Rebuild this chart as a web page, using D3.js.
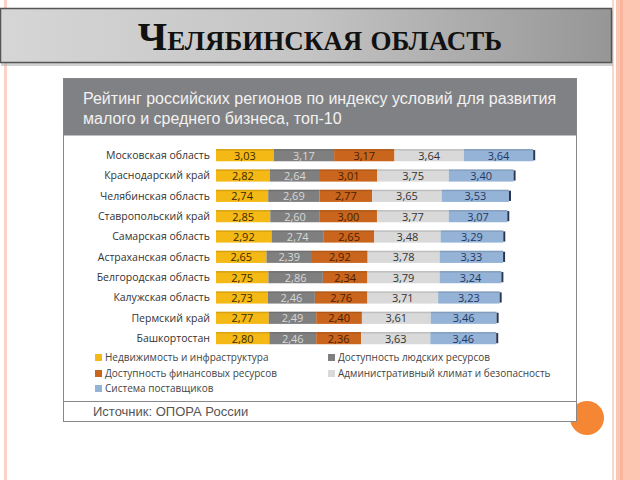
<!DOCTYPE html>
<html><head><meta charset="utf-8">
<script src="https://cdn.jsdelivr.net/npm/d3@7/dist/d3.min.js"></script>
<style>html,body{margin:0;padding:0;background:#fff;}svg{display:block;}</style>
</head><body>
<svg id="c" width="640" height="480"></svg>
<script>
const regions = ["Московская область","Краснодарский край","Челябинская область","Ставропольский край","Самарская область","Астраханская область","Белгородская область","Калужская область","Пермский край","Башкортостан"];
const seriesNames = ["Недвижимость и инфраструктура","Доступность людских ресурсов","Доступность финансовых ресурсов","Административный климат и безопасность","Система поставщиков"];
const realEstate = [3.03,2.82,2.74,2.85,2.92,2.65,2.75,2.73,2.77,2.80];
const labour     = [3.17,2.64,2.69,2.60,2.74,2.39,2.86,2.46,2.49,2.46];
const finance    = [3.17,3.01,2.77,3.00,2.65,2.92,2.34,2.76,2.40,2.36];
const admin      = [3.64,3.75,3.65,3.77,3.48,3.78,3.79,3.71,3.61,3.63];
const suppliers  = [3.64,3.40,3.53,3.07,3.29,3.33,3.24,3.23,3.46,3.46];
const seriesValues = [realEstate, labour, finance, admin, suppliers];
const colors = ["#f4b914","#7f7f7f","#c9651c","#d9d9d9","#95b3d7"];
const textColors = ["#3a2a00","#d8d8d8","#4a1e00","#333333","#1f3864"];
const pageTitle = "Челябинская область";
const chartTitle = ["Рейтинг российских регионов по индексу условий для развития","малого и среднего бизнеса, топ-10"];
const source = "Источник: ОПОРА России";

const svg = d3.select("#c");
const defs = svg.append("defs");
const g1 = defs.append("linearGradient").attr("id","tg").attr("x1","0").attr("x2","1").attr("y1","0").attr("y2","0");
g1.append("stop").attr("offset","0").attr("stop-color","#d6d6d6");
g1.append("stop").attr("offset","0.5").attr("stop-color","#c4c4c4");
g1.append("stop").attr("offset","1").attr("stop-color","#969696");

// decorative stripes
svg.append("rect").attr("x",4).attr("y",0).attr("width",3).attr("height",480).attr("fill","#fbd3c6");
svg.append("rect").attr("x",612).attr("y",0).attr("width",2).attr("height",480).attr("fill","#fbd6ca");
svg.append("rect").attr("x",616).attr("y",0).attr("width",24).attr("height",480).attr("fill","#fcc6b3");
svg.append("rect").attr("x",620).attr("y",0).attr("width",3).attr("height",480).attr("fill","#f8b49c");

// title box
svg.append("rect").attr("x",1).attr("y",11).attr("width",612).attr("height",55).attr("fill","#b0b0b0").attr("opacity",0.6);
svg.append("rect").attr("x",0.5).attr("y",8.5).attr("width",611).attr("height",54).attr("fill","url(#tg)").attr("stroke","#555").attr("stroke-width",1.5);
const tt = svg.append("text").attr("x",320).attr("y",50).attr("text-anchor","middle")
  .attr("font-family","Liberation Serif, serif").attr("font-weight","bold").attr("fill","#111");
tt.append("tspan").attr("font-size",40).text(pageTitle[0]);
const rest = pageTitle.slice(1).toUpperCase().split(" ");
tt.append("tspan").attr("font-size",27).text(rest[0]);
tt.append("tspan").attr("font-size",27).attr("dx",8).text(rest[1]);

// circle
svg.append("circle").attr("cx",587).attr("cy",418).attr("r",17).attr("fill","#f58634");

// chart frame
const fx=63.5, fy=78.5, fw=513, fh=343;
svg.append("rect").attr("x",fx).attr("y",fy).attr("width",fw).attr("height",fh).attr("fill","#fff").attr("stroke","#888").attr("stroke-width",1);
svg.append("rect").attr("x",fx).attr("y",fy).attr("width",fw).attr("height",57).attr("fill","#808184");
chartTitle.forEach((t,i)=>{
  svg.append("text").attr("x",83).attr("y",104+i*20).attr("font-family","Liberation Sans, Arial, sans-serif")
    .attr("font-size",16).attr("fill","#f2f2f2").text(t);
});
svg.append("line").attr("x1",fx).attr("x2",fx+fw).attr("y1",401.5).attr("y2",401.5).attr("stroke","#888");
svg.append("text").attr("x",93).attr("y",416).attr("font-family","Liberation Sans, Arial, sans-serif")
  .attr("font-size",13).attr("fill","#555").text(source);

// scales
const x = d3.scaleLinear().domain([0,1]).range([216,235.05]);
const y = d3.scaleBand().domain(regions).range([145,348.3]).paddingInner(0.4).paddingOuter(0.2);

const lab = svg.append("g");
regions.forEach(r=>{
  lab.append("text").attr("x",210).attr("y",y(r)+y.bandwidth()/2+4).attr("text-anchor","end")
    .attr("font-family","Open Sans, sans-serif").attr("font-size",10.5).attr("fill","#333").text(r);
});

const stacked = regions.map((r,i)=>{
  let acc=0; return seriesValues.map((s,k)=>{const a=acc; acc+=s[i]; return {r, k, v:s[i], x0:a, x1:acc};});
});
const fmt = v => d3.format(".2f")(v).replace(".",",");
const bars = svg.append("g");
stacked.forEach(row=>{
  row.forEach(d=>{
    bars.append("rect").attr("x",x(d.x0)).attr("y",y(d.r)).attr("width",x(d.x1)-x(d.x0)).attr("height",y.bandwidth()).attr("fill",colors[d.k]);
    bars.append("rect").attr("x",x(d.x0)).attr("y",y(d.r)).attr("width",x(d.x1)-x(d.x0)).attr("height",1.5).attr("fill","#000").attr("opacity",0.12);
    bars.append("text").attr("x",(x(d.x0)+x(d.x1))/2).attr("y",y(d.r)+y.bandwidth()/2+4.5).attr("text-anchor","middle")
      .attr("font-family","Open Sans, sans-serif").attr("font-size",11).attr("fill",textColors[d.k]).text(fmt(d.v));
  });
  const last=row[row.length-1];
  bars.append("rect").attr("x",x(last.x1)).attr("y",y(last.r)+1).attr("width",2).attr("height",y.bandwidth()-2).attr("fill","#2a3550");
});

// legend
const legPos = [[95,361],[328,361],[95,377],[328,377],[95,392]];
const lg = svg.append("g");
seriesNames.forEach((n,k)=>{
  const [lx,ly]=legPos[k];
  lg.append("rect").attr("x",lx).attr("y",ly-7).attr("width",7).attr("height",7).attr("fill",colors[k]);
  lg.append("text").attr("x",lx+10).attr("y",ly).attr("font-family","Open Sans, sans-serif").attr("font-size",10).attr("fill","#444").text(n);
});
</script>
</body></html>
